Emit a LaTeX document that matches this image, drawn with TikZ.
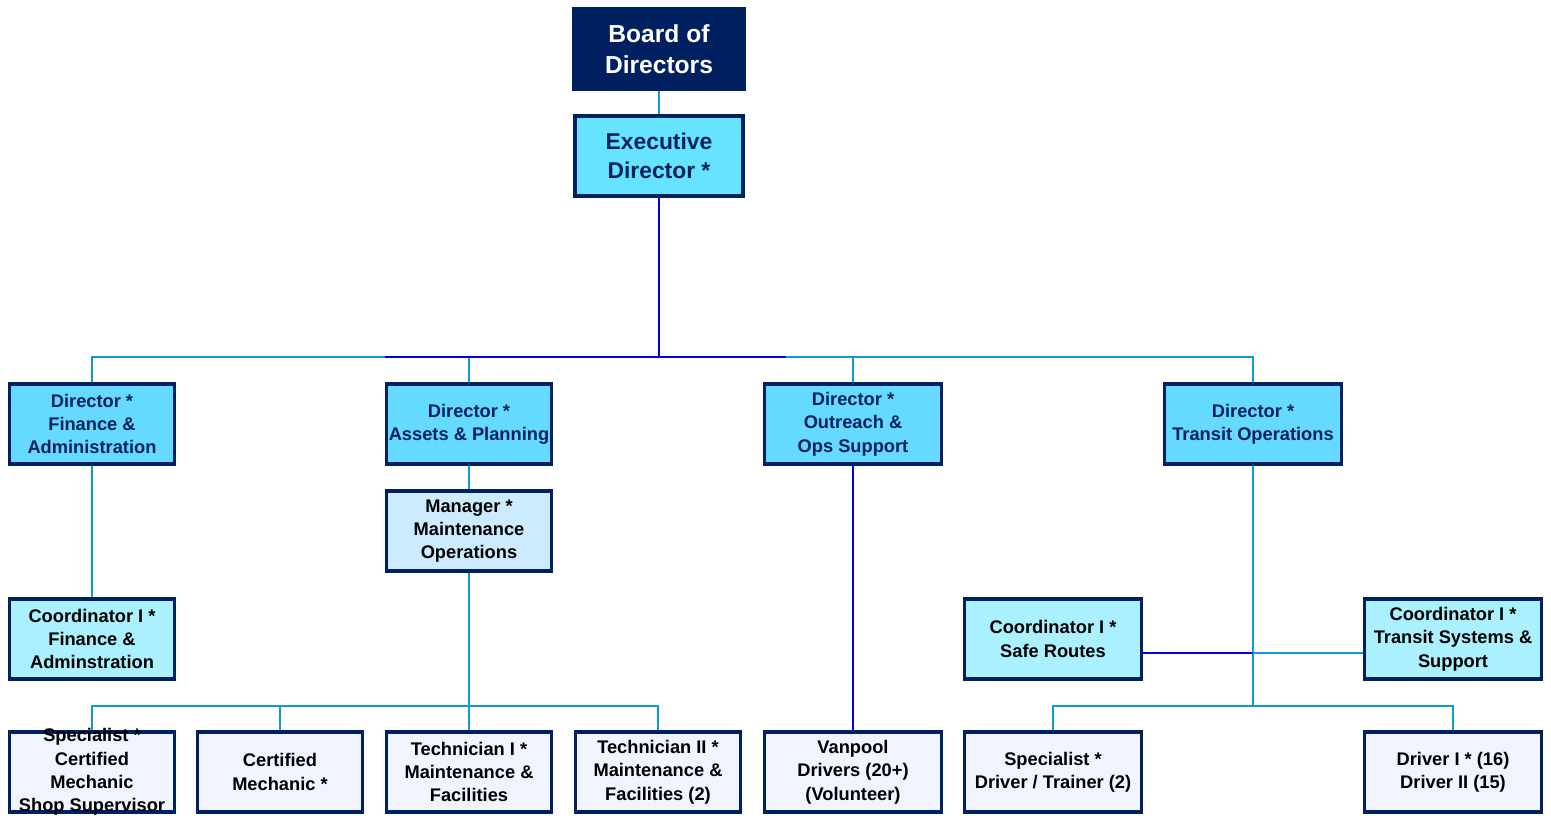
\documentclass[tikz,border=0pt]{standalone}
\usepackage{fontspec}
\setmainfont{Liberation Sans}
\usepackage{xcolor}
\usetikzlibrary{positioning}
\definecolor{navy}{HTML}{002060}
\definecolor{dircyan}{HTML}{66D9FF}
\definecolor{execcyan}{HTML}{66E3FF}
\definecolor{coordcyan}{HTML}{AAF0FF}
\definecolor{mgrblue}{HTML}{CCEBFF}
\definecolor{staffblue}{HTML}{F0F4FF}
\definecolor{linelight}{HTML}{0F9BD0}
\definecolor{linedark}{HTML}{0000E6}

\begin{document}
\begin{tikzpicture}[x=0.02cm,y=-0.02cm,
    box/.style={draw=navy,line width=1.8pt,minimum width=3.3cm,minimum height=1.6cm,
      align=center,inner sep=1pt,font=\bfseries\fontsize{10.4}{13.3}\selectfont},
    wide/.style={box,minimum width=3.55cm},
    dir/.style={fill=dircyan,text=navy},
    coord/.style={fill=coordcyan,text=black},
    staff/.style={fill=staffblue,text=black},
    lb/.style={draw=linelight,line width=1pt},
    db/.style={draw=linedark,line width=1.1pt}]
  \useasboundingbox (0,0) rectangle (1551,815);
  % top
  \node[box,fill=navy,draw=navy,text=white,minimum width=3.42cm,minimum height=1.62cm,
    font=\bfseries\fontsize{14}{17.6}\selectfont] (board) at (659,49) {Board of\\Directors};
  \node[box,fill=execcyan,text=navy,minimum width=3.36cm,
    font=\bfseries\fontsize{13}{16.4}\selectfont] (exec) at (659,156) {Executive\\Director *};
  % directors
  \node[box,dir] (fin) at (92,424) {Director *\\Finance \&\\Administration};
  \node[box,dir] (assets) at (469,424) {Director *\\Assets \& Planning};
  \node[wide,dir] (outreach) at (853,424) {Director *\\Outreach \&\\Ops Support};
  \node[wide,dir] (transit) at (1253,424) {Director *\\Transit Operations};
  % middle
  \node[box,fill=mgrblue,text=black] (mgr) at (469,531) {Manager *\\Maintenance\\Operations};
  \node[box,coord] (cfin) at (92,639) {Coordinator I *\\Finance \&\\Adminstration};
  \node[wide,coord] (csafe) at (1053,639) {Coordinator I *\\Safe Routes};
  \node[wide,coord] (csys) at (1453,639) {Coordinator I *\\Transit Systems \&\\Support};
  % staff
  \node[box,staff,inner ysep=-12pt] (spec) at (92,772) {Specialist *\\Certified\\Mechanic\\Shop Supervisor};
  \node[box,staff] (mech) at (280,772) {Certified\\Mechanic *};
  \node[box,staff] (tech1) at (469,772) {Technician I *\\Maintenance \&\\Facilities};
  \node[box,staff] (tech2) at (658,772) {Technician II *\\Maintenance \&\\Facilities (2)};
  \node[wide,staff] (vanpool) at (853,772) {Vanpool\\Drivers (20+)\\(Volunteer)};
  \node[wide,staff] (trainer) at (1053,772) {Specialist *\\Driver / Trainer (2)};
  \node[wide,staff] (drivers) at (1453,772) {Driver I * (16)\\Driver II (15)};
  % bus points
  \coordinate (bus) at (659,357);
  \coordinate (busL) at (385,357);
  \coordinate (busR) at (786,357);
  \coordinate (mbus) at (469,706);
  \coordinate (tbus) at (1253,706);
  \coordinate (tmid) at (1253,653);
  % connectors
  \draw[lb] (board) -- (exec);
  \draw[lb] (fin.north) |- (bus) -| (transit.north);
  \draw[lb] (assets.north) -- (assets.north |- bus);
  \draw[lb] (outreach.north) -- (outreach.north |- bus);
  \draw[db] (exec) -- (bus);
  \draw[db] (busL) -- (busR);
  \draw[lb] (fin) -- (cfin);
  \draw[lb] (assets) -- (mgr);
  \draw[lb] (mgr) -- (mbus);
  \draw[lb] (spec.north) |- (mbus) -| (tech2.north);
  \draw[lb] (mech.north) -- (mech.north |- mbus);
  \draw[lb] (tech1.north) -- (mbus);
  \draw[db] (outreach) -- (vanpool);
  \draw[lb] (transit) -- (tbus);
  \draw[lb] (trainer.north) |- (tbus) -| (drivers.north);
  \draw[db] (csafe.east |- tmid) -- (tmid);
  \draw[lb] (tmid) -- (csys.west |- tmid);
\end{tikzpicture}
\end{document}
